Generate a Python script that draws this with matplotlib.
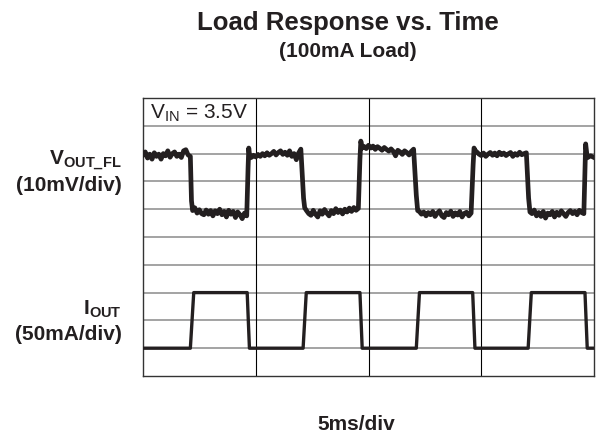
import matplotlib
matplotlib.use("Agg")
import matplotlib.pyplot as plt

plt.rcParams['font.family'] = ['Liberation Sans', 'DejaVu Sans']
plt.rcParams['mathtext.fontset'] = 'custom'
plt.rcParams['mathtext.rm'] = 'Liberation Sans'
plt.rcParams['mathtext.bf'] = 'Liberation Sans:bold'

# time in ms, traces in screen divisions (0 = bottom graticule line, 10 = top)
t_vout = [0.0, 0.1, 0.2, 0.3, 0.4, 0.5, 0.6, 0.7, 0.8, 0.9, 1.0, 1.1, 1.2, 1.3, 1.4, 1.5, 1.6, 1.7, 1.8, 1.9, 2.0, 2.1,
          2.15, 2.2,
          2.3, 2.4, 2.5, 2.6, 2.7, 2.8, 2.9, 3.0, 3.1, 3.2, 3.3, 3.4, 3.5, 3.6, 3.7, 3.8, 3.9, 4.0, 4.1, 4.2, 4.3, 4.4, 4.5, 4.6,
          4.66, 4.69, 4.74,
          4.8, 4.9, 5.0, 5.1, 5.2, 5.3, 5.4, 5.5, 5.6, 5.7, 5.8, 5.9, 6.0, 6.1, 6.2, 6.3, 6.4, 6.5, 6.6, 6.7, 6.8, 6.9, 7.0,
          7.12, 7.17,
          7.25, 7.35, 7.45, 7.55, 7.65, 7.75, 7.85, 7.95, 8.05, 8.15, 8.25, 8.35, 8.45, 8.55, 8.65, 8.75, 8.85, 8.95, 9.05, 9.15, 9.25, 9.35, 9.45, 9.55,
          9.62, 9.66, 9.72,
          9.8, 9.9, 10.0, 10.1, 10.2, 10.3, 10.4, 10.5, 10.6, 10.7, 10.8, 10.9, 11.0, 11.1, 11.2, 11.3, 11.4, 11.5, 11.6, 11.7, 11.8, 11.9, 12.0,
          12.12, 12.18,
          12.25, 12.35, 12.45, 12.55, 12.65, 12.75, 12.85, 12.95, 13.05, 13.15, 13.25, 13.35, 13.45, 13.55, 13.65, 13.75, 13.85, 13.95, 14.05, 14.15, 14.25, 14.35, 14.45, 14.55,
          14.64, 14.68, 14.74,
          14.8, 14.9, 15.0, 15.1, 15.2, 15.3, 15.4, 15.5, 15.6, 15.7, 15.8, 15.9, 16.0, 16.1, 16.2, 16.3, 16.4, 16.5, 16.6, 16.7, 16.8, 16.9, 17.0,
          17.1, 17.16,
          17.25, 17.35, 17.45, 17.55, 17.65, 17.75, 17.85, 17.95, 18.05, 18.15, 18.25, 18.35, 18.45, 18.55, 18.65, 18.75, 18.85, 18.95, 19.05, 19.15, 19.25, 19.35, 19.45, 19.55,
          19.6, 19.63, 19.7, 19.85, 20.0]
v_out = [7.95, 8.06, 7.84, 7.98, 7.8, 8.03, 7.9, 7.98, 7.8, 8.0, 7.92, 8.1, 7.87, 8.0, 8.06, 7.9, 7.98, 7.86, 8.1, 8.14, 7.95, 7.9,
         6.3, 5.95,
         6.05, 5.86, 5.98, 5.84, 5.8, 5.97, 5.82, 5.95, 5.76, 5.94, 5.84, 6.0, 5.8, 5.92, 5.72, 5.96, 5.82, 5.92, 5.7, 5.9, 5.8, 5.66, 5.86, 5.76,
         7.5, 8.2, 7.85,
         7.86, 7.94, 7.88, 7.97, 7.9, 8.0, 7.92, 8.03, 7.94, 8.0, 8.08, 7.95, 8.04, 8.1, 7.97, 8.05, 7.94, 8.1, 7.9, 8.0, 7.78, 8.02, 8.16,
         6.4, 6.05,
         5.95, 5.84, 5.78, 5.96, 5.82, 5.72, 5.94, 5.82, 5.99, 5.86, 5.76, 5.95, 5.84, 6.02, 5.88, 5.97, 5.83, 6.0, 5.9, 6.04, 5.92, 6.06, 5.96, 6.03,
         7.8, 8.45, 8.2,
         8.26, 8.18, 8.3, 8.2, 8.27, 8.15, 8.25, 8.19, 8.12, 8.22, 8.15, 8.09, 8.17, 8.08, 7.92, 8.12, 8.06, 7.97, 8.1, 8.04, 7.95, 8.08, 8.16,
         6.5, 5.95,
         5.92, 5.82, 5.9, 5.76, 5.88, 5.8, 5.92, 5.74, 5.86, 5.94, 5.76, 5.7, 5.88, 5.8, 5.93, 5.74, 5.87, 5.79, 5.92, 5.72, 5.85, 5.89, 5.76, 5.86,
         7.6, 8.2, 8.1,
         8.06, 7.98, 7.93, 8.02, 7.9, 7.98, 8.04, 7.94, 8.02, 7.92, 8.05, 7.96, 8.02, 7.93, 7.99, 8.04, 7.9, 8.0, 7.94, 8.05, 7.96, 8.0, 8.03,
         6.4, 5.9,
         5.84, 5.97, 5.76, 5.88, 5.74, 5.92, 5.68, 5.86, 5.8, 5.92, 5.72, 5.89, 5.78, 5.94, 5.84, 5.74, 5.88, 5.95, 5.84, 5.92, 5.8, 5.96, 5.88, 5.84,
         7.5, 8.35, 7.85, 7.92, 7.86]

t_iout = [0.0, 2.1, 2.25, 4.62, 4.72, 7.1, 7.24, 9.62, 9.72, 12.12, 12.26, 14.62, 14.72, 17.08, 17.22, 19.6, 19.7, 20.0]
i_out = [1.0, 1.0, 3.0, 3.0, 1.0, 1.0, 3.0, 3.0, 1.0, 1.0, 3.0, 3.0, 1.0, 1.0, 3.0, 3.0, 1.0, 1.0]

x_divs = [0, 5, 10, 15, 20]
y_divs = list(range(11))

fig = plt.figure(figsize=(5.98, 4.35), dpi=100)
ax = fig.add_axes([143 / 598, 58 / 435, 451 / 598, 278 / 435])
ax.set_xlim(0, 20)
ax.set_ylim(0, 10)

for y in y_divs[1:-1]:
    ax.axhline(y, color='#8a8a8a', lw=1.1, zorder=1)
for x in x_divs[1:-1]:
    ax.axvline(x, color='black', lw=0.8, zorder=1)

ax.plot(t_vout, v_out, color='#231f20', lw=3.4, solid_joinstyle='round', zorder=3)
ax.plot(t_iout, i_out, color='#231f20', lw=2.4, solid_joinstyle='round', zorder=3)

ax.set_xticks([])
ax.set_yticks([])
for s in ax.spines.values():
    s.set_color('#333333')
    s.set_linewidth(1.0)

def fy(py):
    return 1 - py / 435

ax.text(0.3, 9.5, r'V$_{\mathrm{IN}}$ = 3.5V', fontsize=15, va='center', ha='left', color='#231f20')

fig.text(348 / 598, fy(30), 'Load Response vs. Time', fontsize=18.5, fontweight='bold',
         ha='center', va='baseline', color='#231f20')
fig.text(348 / 598, fy(57), '(100mA Load)', fontsize=15, fontweight='bold',
         ha='center', va='baseline', color='#231f20')

fig.text(122 / 598, fy(165), r'V$_{\mathbf{OUT\_FL}}$', fontsize=15, fontweight='bold',
         ha='right', va='baseline', color='#231f20')
fig.text(122 / 598, fy(191), '(10mV/div)', fontsize=15, fontweight='bold',
         ha='right', va='baseline', color='#231f20')
fig.text(122 / 598, fy(314), r'I$_{\mathbf{OUT}}$', fontsize=15, fontweight='bold',
         ha='right', va='baseline', color='#231f20')
fig.text(122 / 598, fy(340), '(50mA/div)', fontsize=15, fontweight='bold',
         ha='right', va='baseline', color='#231f20')

fig.text(356 / 598, fy(430), '5ms/div', fontsize=15, fontweight='bold',
         ha='center', va='baseline', color='#231f20')

fig.savefig('out.png', dpi=100)
